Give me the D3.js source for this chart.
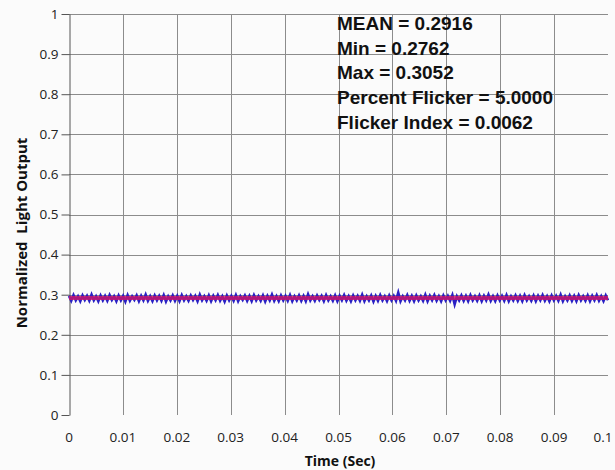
<!DOCTYPE html>
<html>
<head>
<meta charset="utf-8">
<script src="https://cdn.jsdelivr.net/npm/d3@7"></script>
<style>
	body { margin: 0; background: #fbfbfb; }
	svg { display: block; }
</style>
</head>
<body>
<div id="chart"></div>
<script>
	//
	// Data
	//
	let signal = [
		.297,.285,.299,.286,.296,.284,.298,.287,.297,.285,.300,.286,.296,.284,.298,.286,.297,.285,.299,.287,
		.296,.284,.298,.286,.297,.283,.299,.285,.296,.287,.298,.284,.297,.286,.300,.285,.296,.284,.298,.286,
		.297,.285,.299,.283,.296,.286,.298,.285,.297,.284,.299,.286,.296,.285,.298,.287,.297,.284,.300,.286,
		.296,.285,.298,.284,.297,.286,.299,.285,.296,.283,.298,.286,.297,.285,.299,.284,.296,.287,.298,.285,
		.297,.284,.299,.286,.296,.285,.298,.283,.297,.286,.300,.285,.296,.284,.298,.286,.297,.285,.299,.284,
		.296,.286,.298,.285,.297,.284,.301,.286,.296,.285,.298,.287,.297,.284,.299,.286,.296,.285,.298,.284,
		.297,.286,.299,.285,.296,.284,.298,.286,.297,.285,.300,.284,.296,.286,.298,.283,.297,.285,.299,.286,
		.296,.284,.298,.286,.297,.285,.3052,.284,.296,.286,.299,.285,.297,.284,.298,.286,.296,.285,.300,.284,
		.297,.286,.299,.285,.296,.284,.298,.286,.297,.285,.299,.2762,.296,.286,.298,.285,.297,.284,.299,.286,
		.296,.285,.298,.284,.297,.286,.300,.285,.296,.284,.298,.286,.297,.285,.299,.284,.296,.286,.298,.285,
		.297,.284,.299,.286,.296,.285,.298,.284,.297,.286,.299,.285,.296,.284,.298,.286,.297,.285,.300,.284,
		.296,.286,.298,.285,.297,.284,.299,.286,.296,.285,.298,.284,.297,.286,.299,.285,.296,.284,.298,.286
	];
	let MEAN = 0.2916;
	let statLabels = ['MEAN', 'Min', 'Max', 'Percent Flicker', 'Flicker Index'];
	let statValues = ['0.2916', '0.2762', '0.3052', '5.0000', '0.0062'];
	let xTicks = [0, 0.01, 0.02, 0.03, 0.04, 0.05, 0.06, 0.07, 0.08, 0.09, 0.1];
	let yTicks = [0, 0.1, 0.2, 0.3, 0.4, 0.5, 0.6, 0.7, 0.8, 0.9, 1];
	let T_END = 0.1;

	var svg_width = 615,
	svg_height = 470;
	var plotLeft = 69, plotRight = 608, plotTop = 14, plotBottom = 415;

	var x = d3.scaleLinear().domain([0, T_END]).range([plotLeft, plotRight]);
	var y = d3.scaleLinear().domain([0, 1]).range([plotBottom, plotTop]);

	var svg = d3.select("#chart").append("svg")
		.attr("width", svg_width)
		.attr("height", svg_height)
		.style("font-family", "'Open Sans', sans-serif");

	// Grid
	svg.append("g").selectAll("line")
		.data(yTicks.filter(d => d > 0))
		.enter().append("line")
		.attr("x1", plotLeft).attr("x2", plotRight)
		.attr("y1", d => Math.round(y(d)) + 0.5).attr("y2", d => Math.round(y(d)) + 0.5)
		.style("stroke", "#8c8c8c");

	svg.append("g").selectAll("line")
		.data(xTicks.filter(d => d > 0 && d < T_END))
		.enter().append("line")
		.attr("y1", plotTop).attr("y2", plotBottom)
		.attr("x1", d => Math.round(x(d)) + 0.5).attr("x2", d => Math.round(x(d)) + 0.5)
		.style("stroke", "#8c8c8c");

	// Y axis
	var yAxis = svg.append("g")
		.attr("transform", "translate(" + (plotLeft + 0.5) + ",0)")
		.call(d3.axisLeft(y).tickValues(yTicks).tickFormat(d3.format("")).tickSize(8).tickPadding(3).tickSizeOuter(0));
	yAxis.select(".domain").style("stroke", "#555");
	yAxis.selectAll(".tick line").style("stroke", "#555");
	yAxis.selectAll("text").style("font-size", "13.5px").style("fill", "#222").style("font-family", "'Open Sans', sans-serif");

	// X axis labels (last one kept inside the window)
	svg.append("g").selectAll("text")
		.data(xTicks)
		.enter().append("text")
		.attr("x", d => Math.min(x(d), svg_width - 12))
		.attr("y", 442)
		.attr("text-anchor", "middle")
		.style("font-size", "13.5px")
		.style("fill", "#222")
		.text(d => d3.format("")(d));

	// Signal
	var line = d3.line()
		.x((d, i) => x(i * T_END / (signal.length - 1)))
		.y(d => y(d));

	svg.append("path")
		.datum(signal)
		.attr("d", line)
		.style("fill", "none")
		.style("stroke", "#2a1fc4")
		.style("stroke-width", 2.6)
		.style("stroke-linejoin", "miter");

	svg.append("line")
		.attr("x1", x(0)).attr("x2", x(T_END))
		.attr("y1", y(MEAN)).attr("y2", y(MEAN))
		.style("stroke", "#d0146a")
		.style("stroke-width", 4)
		.style("opacity", 0.8);

	// Stats
	svg.append("g").selectAll("text")
		.data(statLabels)
		.enter().append("text")
		.attr("x", 337)
		.attr("y", (d, i) => 30 + i * 24.7)
		.style("font-family", "'Liberation Sans', Arial, sans-serif")
		.style("font-weight", "bold")
		.style("font-size", "19px")
		.style("fill", "#111")
		.text((d, i) => d + ' = ' + statValues[i]);

	// Axis titles
	svg.append("text")
		.attr("x", 340)
		.attr("y", 466)
		.attr("text-anchor", "middle")
		.style("font-weight", "bold")
		.style("font-size", "14px")
		.style("fill", "#111")
		.text("Time (Sec)");

	svg.append("text")
		.attr("transform", "translate(27,233) rotate(-90)")
		.attr("text-anchor", "middle")
		.style("font-weight", "bold")
		.style("font-size", "15px")
		.style("fill", "#111")
		.style("white-space", "pre")
		.text("Normalized  Light Output");
</script>
</body>
</html>
